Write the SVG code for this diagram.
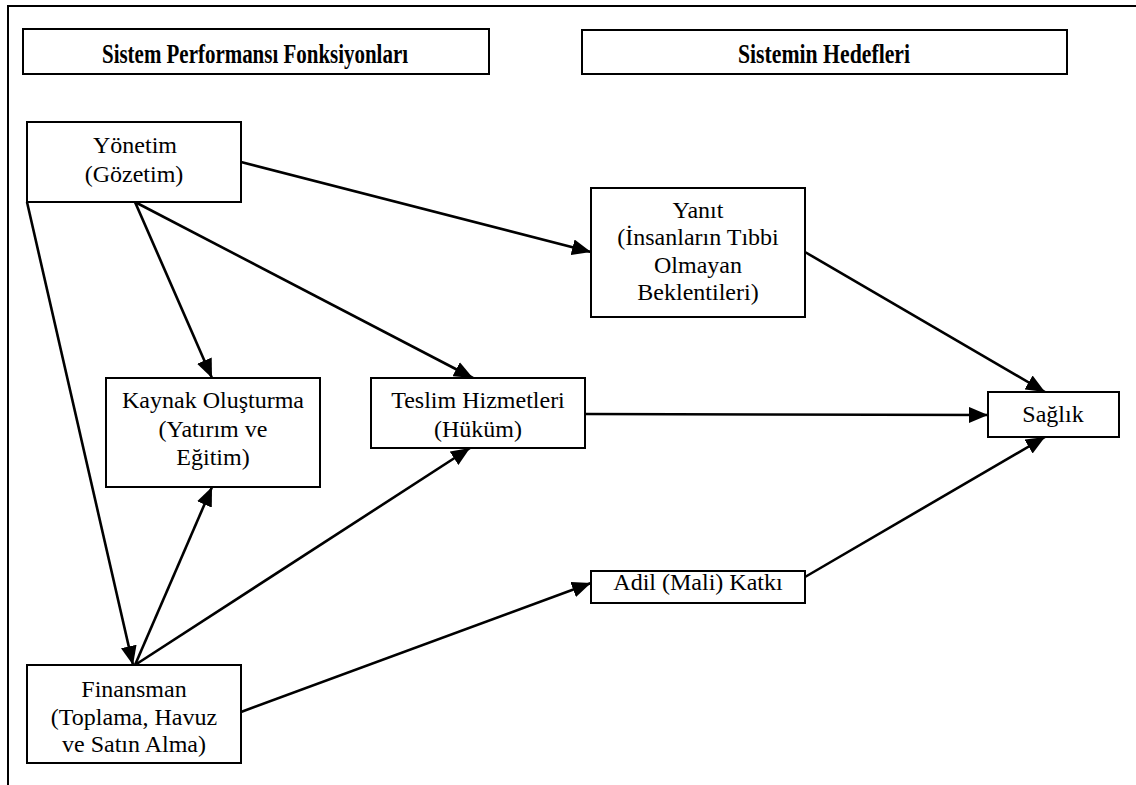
<svg xmlns="http://www.w3.org/2000/svg" width="1136" height="785" viewBox="0 0 1136 785">
<style>
.box{fill:#fff;stroke:#000;stroke-width:2}
.hdr{font-family:'Liberation Serif','Times New Roman','DejaVu Serif',serif;font-weight:bold;font-size:28px;text-anchor:middle;fill:#000}
.t{font-family:'Liberation Serif','Times New Roman','DejaVu Serif',serif;font-size:24px;text-anchor:middle;fill:#000}
.c{stroke:#000;stroke-width:2.6;fill:none;marker-end:url(#ah)}
</style>
<defs>
<marker id="ah" markerUnits="userSpaceOnUse" markerWidth="20" markerHeight="16" refX="19" refY="8" orient="auto">
<path d="M0,0 L19,8 L0,16 z" fill="#000"/>
</marker>
</defs>
<rect width="1136" height="785" fill="#fff"/>
<path d="M8,785 L8,6 L1136,6" fill="none" stroke="#000" stroke-width="2"/>
<g id="header-functions">
<rect class="box" x="23" y="29" width="466" height="45"/>
<text class="hdr" x="255" y="63" textLength="306" lengthAdjust="spacingAndGlyphs">Sistem Performansı Fonksiyonları</text>
</g>
<g id="header-goals">
<rect class="box" x="582" y="30" width="485" height="44"/>
<text class="hdr" x="824" y="63" textLength="172" lengthAdjust="spacingAndGlyphs">Sistemin Hedefleri</text>
</g>
<g id="connectors">
<line class="c" x1="241" y1="162" x2="591" y2="252"/>
<line class="c" x1="135" y1="202" x2="212" y2="378"/>
<line class="c" x1="135" y1="202" x2="473" y2="378"/>
<line class="c" x1="27" y1="202" x2="133" y2="665"/>
<line class="c" x1="135" y1="665" x2="212" y2="487"/>
<line class="c" x1="135" y1="665" x2="470" y2="448"/>
<line class="c" x1="241" y1="712" x2="591" y2="583"/>
<line class="c" x1="805" y1="252" x2="1045" y2="392"/>
<line class="c" x1="585" y1="414" x2="988" y2="415"/>
<line class="c" x1="805" y1="577" x2="1045" y2="437"/>
</g>
<g id="yonetim">
<rect class="box" x="27" y="122" width="214" height="80"/>
<text class="t" x="135" y="153">Yönetim</text>
<text class="t" x="134" y="182">(Gözetim)</text>
</g>
<g id="yanit">
<rect class="box" x="591" y="188" width="214" height="129"/>
<text class="t" x="698" y="218">Yanıt</text>
<text class="t" x="698" y="245">(İnsanların Tıbbi</text>
<text class="t" x="698" y="273">Olmayan</text>
<text class="t" x="698" y="300">Beklentileri)</text>
</g>
<g id="kaynak">
<rect class="box" x="106" y="378" width="214" height="109"/>
<text class="t" x="213" y="408">Kaynak Oluşturma</text>
<text class="t" x="213" y="437">(Yatırım ve</text>
<text class="t" x="213" y="465">Eğitim)</text>
</g>
<g id="teslim">
<rect class="box" x="371" y="378" width="214" height="70"/>
<text class="t" x="478" y="408">Teslim Hizmetleri</text>
<text class="t" x="478" y="437">(Hüküm)</text>
</g>
<g id="saglik">
<rect class="box" x="988" y="392" width="131" height="45"/>
<text class="t" x="1053" y="422">Sağlık</text>
</g>
<g id="adil">
<rect class="box" x="591" y="571" width="214" height="32"/>
<text class="t" x="698" y="590">Adil (Mali) Katkı</text>
</g>
<g id="finansman">
<rect class="box" x="27" y="665" width="214" height="98"/>
<text class="t" x="134" y="697">Finansman</text>
<text class="t" x="134" y="725">(Toplama, Havuz</text>
<text class="t" x="134" y="752">ve Satın Alma)</text>
</g>
</svg>
